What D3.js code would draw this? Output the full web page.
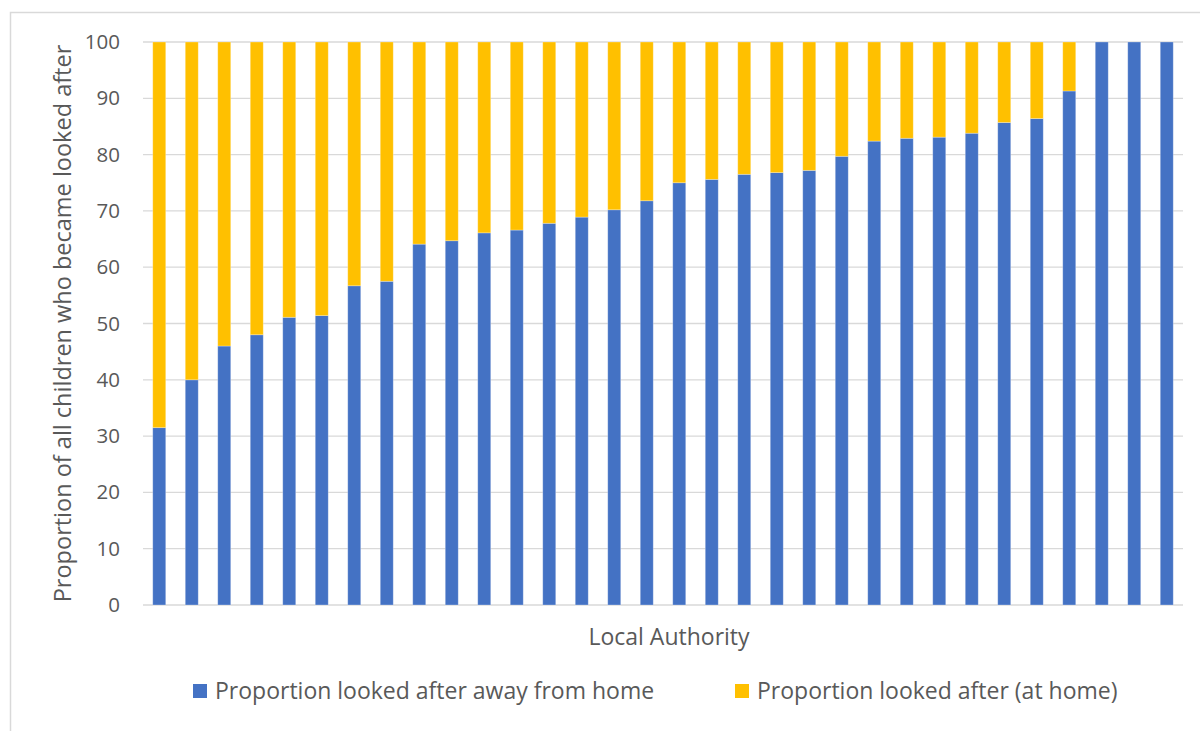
<!DOCTYPE html>
<html>
<head>
<meta charset="utf-8">
<script src="https://cdn.jsdelivr.net/npm/d3@7"></script>
<style>
  body { margin: 0; background: #fff; }
  text { font-family: "Open Sans", "Liberation Sans", sans-serif; fill: #595959; }
</style>
</head>
<body>
<div class="chart"></div>
<script>
// Local authorities (unlabelled in the original), sorted by share looked after away from home
var authorities = d3.range(1, 33).map(function(i) { return "LA" + i; });

var awayFromHome = [31.5, 40.0, 46.0, 48.0, 51.1, 51.4, 56.7, 57.5, 64.1, 64.7, 66.1, 66.6,
  67.8, 68.9, 70.2, 71.8, 75.0, 75.6, 76.5, 76.8, 77.2, 79.7, 82.4, 82.9,
  83.1, 83.8, 85.7, 86.4, 91.3, 100, 100, 100];
var atHome = awayFromHome.map(function(v) { return +(100 - v).toFixed(1); });

var seriesNames = ["Proportion looked after away from home", "Proportion looked after (at home)"];
var seriesColors = ["#4472C4", "#FFC000"];
var yTicks = [0, 10, 20, 30, 40, 50, 60, 70, 80, 90, 100];

var svgWidth = 1200;
var svgHeight = 731;
var margin = { top: 42, right: 17, bottom: 126, left: 143 };
var width = svgWidth - margin.left - margin.right;
var height = svgHeight - margin.top - margin.bottom;

var svg = d3.select(".chart")
  .append("svg")
  .attr("width", svgWidth)
  .attr("height", svgHeight);

// chart frame
svg.append("rect")
  .attr("x", 10.5).attr("y", 12.5)
  .attr("width", 1200).attr("height", 731)
  .attr("fill", "none")
  .attr("stroke", "#d9d9d9")
  .attr("stroke-width", 1.5);

var chart = svg.append("g")
  .attr("transform", "translate(" + margin.left + "," + margin.top + ")");

var x = d3.scaleBand().domain(authorities).range([0, width]).paddingInner(0.6).paddingOuter(0.3);
var y = d3.scaleLinear().domain([0, 100]).range([height, 0]);

// gridlines
chart.append("g")
  .selectAll("line")
  .data(yTicks)
  .enter()
  .append("line")
  .attr("x1", 0).attr("x2", width)
  .attr("y1", function(d) { return y(d); })
  .attr("y2", function(d) { return y(d); })
  .attr("stroke", "#d9d9d9")
  .attr("stroke-width", 1.3);

// stacked bars
var rows = authorities.map(function(a, i) {
  return { name: a, away: awayFromHome[i], home: atHome[i] };
});
var stacked = d3.stack().keys(["away", "home"])(rows);

chart.selectAll("g.series")
  .data(stacked)
  .enter()
  .append("g")
  .attr("class", "series")
  .attr("fill", function(d, i) { return seriesColors[i]; })
  .selectAll("rect")
  .data(function(d) { return d; })
  .enter()
  .append("rect")
  .attr("x", function(d) { return x(d.data.name); })
  .attr("width", x.bandwidth())
  .attr("y", function(d) { return y(d[1]); })
  .attr("height", function(d) { return y(d[0]) - y(d[1]); })
  .attr("stroke", "#ffffff")
  .attr("stroke-opacity", 0.35)
  .attr("stroke-width", 0.8);

// y axis labels
var leftAxis = d3.axisLeft(y).tickValues(yTicks).tickSize(0).tickPadding(23);
var yAxis = chart.append("g").call(leftAxis);
yAxis.select(".domain").remove();
yAxis.selectAll("text")
  .style("font-size", "20.5px")
  .attr("fill", "#595959");

// axis titles
chart.append("text")
  .attr("transform", "rotate(-90)")
  .attr("x", -height / 2)
  .attr("y", -margin.left + 71)
  .attr("text-anchor", "middle")
  .style("font-size", "23.5px")
  .text("Proportion of all children who became looked after");

chart.append("text")
  .attr("x", width / 2 + 6)
  .attr("y", height + 40)
  .attr("text-anchor", "middle")
  .style("font-size", "23px")
  .text("Local Authority");

// legend
var legendX = [193, 735];
var legend = svg.append("g");
seriesNames.forEach(function(name, i) {
  legend.append("rect")
    .attr("x", legendX[i]).attr("y", 684)
    .attr("width", 14).attr("height", 14)
    .attr("fill", seriesColors[i]);
  legend.append("text")
    .attr("x", legendX[i] + 22)
    .attr("y", 699)
    .style("font-size", "23px")
    .text(name);
});
</script>
</body>
</html>
